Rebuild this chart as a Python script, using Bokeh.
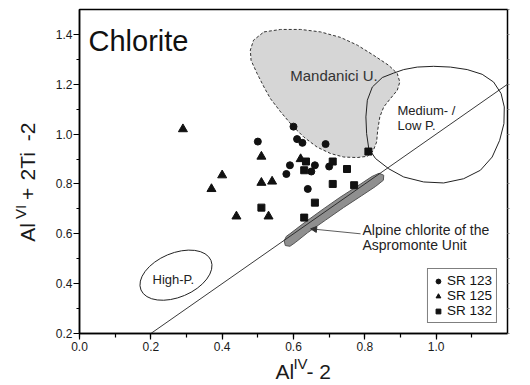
from bokeh.plotting import figure
from bokeh.models import (Range1d, SingleIntervalTicker, FixedTicker, PrintfTickFormatter,
                          LinearAxis, Label, Arrow, NormalHead, Slope, Legend, LegendItem)
from bokeh.embed import file_html
from bokeh.resources import INLINE

# ---------------- data ----------------
sr123_x = [0.50, 0.60, 0.61, 0.625, 0.69, 0.59, 0.66, 0.65, 0.70, 0.58, 0.64]
sr123_y = [0.97, 1.03, 0.98, 0.965, 0.96, 0.875, 0.875, 0.85, 0.87, 0.84, 0.78]

sr125_x = [0.29, 0.51, 0.62, 0.40, 0.37, 0.51, 0.54, 0.44, 0.53]
sr125_y = [1.02, 0.91, 0.90, 0.835, 0.78, 0.805, 0.81, 0.67, 0.67]

sr132_x = [0.635, 0.63, 0.71, 0.75, 0.81, 0.71, 0.77, 0.66, 0.51, 0.63]
sr132_y = [0.89, 0.855, 0.89, 0.86, 0.93, 0.80, 0.795, 0.725, 0.705, 0.665]

series_labels = ["SR 123", "SR 125", "SR 132"]

# field outlines
mandanici_x = [0.517, 0.564, 0.620, 0.676, 0.732, 0.779, 0.825, 0.867, 0.891, 0.898, 0.891,
               0.872, 0.853, 0.842, 0.836, 0.833, 0.823, 0.807, 0.779, 0.741, 0.704, 0.666,
               0.629, 0.596, 0.564, 0.535, 0.519, 0.498, 0.481, 0.479, 0.488]
mandanici_y = [1.410, 1.420, 1.420, 1.410, 1.388, 1.357, 1.316, 1.276, 1.243, 1.209, 1.176,
               1.143, 1.109, 1.069, 1.015, 0.968, 0.932, 0.911, 0.906, 0.908, 0.922, 0.948,
               0.988, 1.035, 1.089, 1.143, 1.184, 1.243, 1.296, 1.337, 1.377]

medium_x = [0.909, 0.947, 0.993, 1.040, 1.087, 1.129, 1.161, 1.182, 1.191, 1.190, 1.178,
            1.157, 1.124, 1.077, 1.021, 0.965, 0.909, 0.867, 0.830, 0.811, 0.805, 0.803,
            0.807, 0.821, 0.849, 0.881]
medium_y = [1.259, 1.269, 1.272, 1.269, 1.259, 1.240, 1.209, 1.163, 1.109, 1.042, 0.975,
            0.908, 0.855, 0.821, 0.804, 0.808, 0.828, 0.861, 0.902, 0.942, 1.002, 1.069,
            1.136, 1.189, 1.227, 1.245]

alpine_x = [0.590, 0.630, 0.680, 0.730, 0.780, 0.820, 0.840, 0.853, 0.852, 0.830, 0.790,
            0.740, 0.690, 0.640, 0.605, 0.590, 0.577, 0.574, 0.580]
alpine_y = [0.600, 0.644, 0.696, 0.746, 0.792, 0.830, 0.843, 0.835, 0.815, 0.790, 0.752,
            0.705, 0.655, 0.605, 0.565, 0.550, 0.553, 0.572, 0.590]

highp_cx = [0.2705]
highp_cy = [0.434]

x_ticks_interval = 0.2
y_ticks_interval = 0.2

# axis-title pieces: text -> position along the axis (data units)
xtitle_main = {0.5757: "Al", 0.6708: "- 2"}
xtitle_sup = {0.6196: "IV"}
ytitle_main = {0.6056: "Al", 0.7602: "+", 0.8707: "2Ti", 1.0092: "-2"}
ytitle_sup = {0.6880: "VI"}

# ---------------- figure ----------------
p = figure(width=530, height=385, output_backend="svg", toolbar_location=None,
           x_range=Range1d(0.0, 1.2), y_range=Range1d(0.2, 1.5),
           min_border_left=79, min_border_right=23, min_border_top=9, min_border_bottom=52)
p.background_fill_color = "white"
p.border_fill_color = "white"
p.outline_line_color = "black"
p.outline_line_width = 1.5
p.xgrid.visible = False
p.ygrid.visible = False

FONT = "Liberation Sans"

for ax, iv in ((p.xaxis[0], x_ticks_interval), (p.yaxis[0], y_ticks_interval)):
    ax.ticker = SingleIntervalTicker(interval=iv, num_minor_ticks=2)
    ax.formatter = PrintfTickFormatter(format="%.1f")
    ax.axis_line_width = 1.5
    ax.axis_line_color = "black"
    ax.major_tick_in = 0
    ax.major_tick_out = 6
    ax.minor_tick_in = 0
    ax.major_tick_line_width = 1.2
    ax.minor_tick_line_width = 1.2
    ax.major_label_text_font = FONT
    ax.major_label_text_font_size = "12px"
    ax.major_label_text_color = "#1a1a1a"
p.xaxis.minor_tick_out = 4
p.yaxis.minor_tick_out = 3
p.xaxis.major_label_standoff = 2
p.yaxis.major_label_standoff = 1

ra = LinearAxis(ticker=SingleIntervalTicker(interval=0.1, num_minor_ticks=0),
                major_label_text_alpha=0, major_label_text_font_size="6px",
                major_tick_out=2, major_tick_in=0, minor_tick_out=0,
                axis_line_color=None, major_tick_line_color="#888888")
p.add_layout(ra, "right")


def title_axis(pieces, size, standoff, orientation):
    return LinearAxis(ticker=FixedTicker(ticks=list(pieces.keys()), minor_ticks=[]),
                      major_label_overrides=pieces,
                      axis_line_color=None, major_tick_line_color=None,
                      minor_tick_line_color=None,
                      major_tick_out=0, major_tick_in=0, minor_tick_out=0, minor_tick_in=0,
                      major_label_standoff=standoff, major_label_orientation=orientation,
                      major_label_text_font=FONT, major_label_text_font_size=size,
                      major_label_text_color="#1a1a1a")


# x title: "Al" (superscript "IV") "- 2"
p.add_layout(title_axis(xtitle_sup, "15px", 1, "horizontal"), "below")
p.add_layout(title_axis(xtitle_main, "21px", -15, "horizontal"), "below")
# y title: "Al" (superscript "VI") "+2Ti -2", rotated
p.add_layout(title_axis(ytitle_main, "21px", 13, "vertical"), "left")
p.add_layout(title_axis(ytitle_sup, "15px", -16, "vertical"), "left")

# ---------------- fields ----------------
p.patch(mandanici_x, mandanici_y, fill_color="#d6d6d6", line_color="#333333",
        line_dash="3 2", line_width=1)
p.patch(medium_x, medium_y, fill_alpha=0, line_color="#222222", line_width=1)
p.ellipse(x=highp_cx, y=highp_cy, width=[76], height=[44], angle=[0.4],
          width_units="screen", height_units="screen",
          fill_alpha=0, line_color="#222222", line_width=1)
p.patch(alpine_x, alpine_y, fill_color="#8f8f8f", line_color="#555555", line_width=1)

p.add_layout(Slope(gradient=1, y_intercept=0, line_color="#222222", line_width=0.9))

# ---------------- points ----------------
r1 = p.scatter(sr123_x, sr123_y, marker="circle", size=7, color="#111111")
r2 = p.scatter(sr125_x, sr125_y, marker="triangle", size=9, color="#111111")
r3 = p.scatter(sr132_x, sr132_y, marker="square", size=7, color="#111111")

legend = Legend(items=[LegendItem(label=series_labels[0], renderers=[r1]),
                       LegendItem(label=series_labels[1], renderers=[r2]),
                       LegendItem(label=series_labels[2], renderers=[r3])],
                location="bottom_right", margin=10, padding=4, spacing=0,
                label_height=14, glyph_height=14, glyph_width=12, label_standoff=3,
                label_text_font=FONT, label_text_font_size="13.5px",
                label_text_color="#111111",
                border_line_color="black", border_line_width=1,
                background_fill_color="white", background_fill_alpha=1)
p.add_layout(legend)

# ---------------- annotations ----------------
def lab(x, y, text, size, align="left", color="#1a1a1a"):
    p.add_layout(Label(x=x, y=y, text=text, text_font=FONT, text_font_size=size,
                       text_color=color, text_align=align, text_baseline="alphabetic"))

lab(0.0252, 1.373, "Chlorite", "29px", color="#111111")
lab(0.7135, 1.236, "Mandanici U.", "15px", align="center", color="#333333")
lab(0.8915, 1.0956, "Medium- /", "13px", color="#222222")
lab(0.8915, 1.0353, "Low P.", "13px", color="#222222")
lab(0.2047, 0.4169, "High-P.", "13px", color="#222222")
lab(0.7934, 0.6157, "Alpine chlorite of the", "14px", color="#222222")
lab(0.7934, 0.5534, "Aspromonte Unit", "14px", color="#222222")

p.add_layout(Arrow(x_start=0.788, y_start=0.600, x_end=0.648, y_end=0.620,
                   line_color="#333333", line_width=0.8,
                   end=NormalHead(size=6, fill_color="#333333", line_color="#333333")))

open("out.html", "w").write(file_html(p, INLINE))
